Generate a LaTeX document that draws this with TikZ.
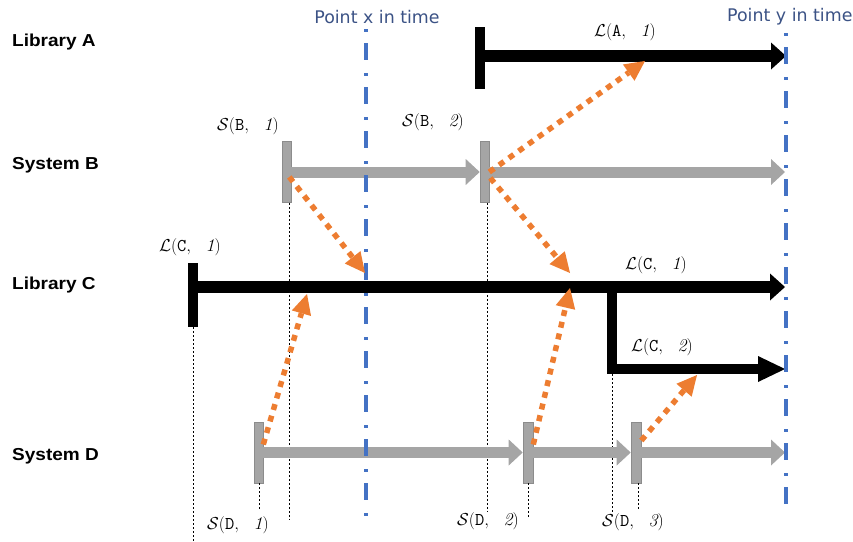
\documentclass[tikz,border=0pt]{standalone}
\usepackage{fontspec}
\usetikzlibrary{arrows.meta}
\newfontfamily\lblfont{Liberation Sans}[FakeStretch=1.1]
\newfontfamily\ptfont{DejaVu Sans}
\definecolor{ptblue}{HTML}{3B5285}
\definecolor{lineblue}{HTML}{4472C4}
\definecolor{orng}{HTML}{ED7D31}
\definecolor{gfill}{HTML}{A5A5A5}
\definecolor{gedge}{HTML}{8C8C8C}
\newcommand{\lbl}[3]{$\mathcal{#1}(\mathtt{#2},\hspace{0.65em}\mathit{#3})$}
\begin{document}
\begin{tikzpicture}[x=1pt,y=-1pt,
  rowlabel/.style={anchor=west, font=\lblfont\bfseries\fontsize{17.3}{20}\selectfont, inner sep=0pt},
  ptlabel/.style={font=\ptfont\fontsize{17.4}{20}\selectfont, text=ptblue, inner sep=0pt},
  mlabel/.style={font=\fontsize{18}{20}\selectfont, inner sep=0pt},
  blackbar/.style={rectangle, fill=black, minimum width=10pt, minimum height=62pt, inner sep=0pt},
  graybar/.style={rectangle, fill=gfill, draw=gedge, line width=0.6pt, minimum width=9pt, minimum height=61pt, inner sep=0pt},
  blackarrow/.style={draw=black, line width=12.5pt, -{Triangle[length=15pt,width=27pt,line width=0pt]}},
  grayarrow/.style={draw=gfill, line width=11pt, -{Triangle[length=14pt,width=26pt,line width=0pt]}},
  timeline/.style={draw=lineblue, line width=4pt, dash pattern=on 3pt off 11pt on 17pt off 13pt},
  guide/.style={draw=black, line width=0.7pt, dash pattern=on 2pt off 2pt},
  dep/.style={draw=orng, line width=5.5pt, dash pattern=on 6pt off 6pt, -{Triangle[length=20pt,width=20pt,line width=0pt]}}
]
\useasboundingbox (0,0) rectangle (853,541);

% row labels
\node[rowlabel] (lA) at (12,42) {Library A};
\node[rowlabel] (lB) at (12,165) {System B};
\node[rowlabel] (lC) at (12,285) {Library C};
\node[rowlabel] (lD) at (12,456) {System D};

% time labels
\node[ptlabel] (px) at (377,17) {Point x in time};
\node[ptlabel, anchor=west] (py) at (727,17) {Point y in time};

% bars
\node[blackbar] (barA) at (480,58) {};
\node[graybar] (barB1) at (286.5,172) {};
\node[graybar] (barB2) at (484.5,172) {};
\node[blackbar, minimum height=64pt] (barC) at (193,295) {};
\node[graybar] (barD1) at (258.5,452.5) {};
\node[graybar, minimum width=10pt] (barD2) at (528,452.5) {};
\node[graybar, minimum width=10pt] (barD3) at (636,452.5) {};

% coordinates
\coordinate (endA) at (786,56);
\coordinate (endB) at (785,172);
\coordinate (endC1) at (785,287);
\coordinate (split) at (612,287);
\coordinate (endC2) at (785,369);
\coordinate (endD) at (785,452.5);
\coordinate (gC) at (193,541);
\coordinate (gB1) at (289,519);
\coordinate (gB2) at (487,512);
\coordinate (gD1) at (259,510);
\coordinate (gD2) at (528,519);
\coordinate (gS) at (612,512);
\coordinate (gD3) at (638,510);
\coordinate (xtop) at (366,29);
\coordinate (xbot) at (366,516);
\coordinate (ytop) at (786,33);
\coordinate (ybot) at (786,507);

% guides
\draw[guide] (barC.south) -- (gC);
\draw[guide] (barB1.south -| gB1) -- (gB1);
\draw[guide] (barB2.south -| gB2) -- (gB2);
\draw[guide] (barD1.south -| gD1) -- (gD1);
\draw[guide] (barD2.south) -- (gD2);
\draw[guide] (barD3.south -| gD3) -- (gD3);
\draw[guide] (612,374) -- (gS);

% arrows
\draw[blackarrow] (barA.east |- endA) -- (endA);
\draw[grayarrow] (barB1.east) -- (barB2.west);
\draw[grayarrow] (barB2.east) -- (endB);
\draw[blackarrow] (barC.east |- endC1) -- (endC1);
\draw[line width=10pt, -{Triangle[length=27pt,width=26pt,line width=0pt]}] (split) |- (endC2);
\draw[grayarrow] (barD1.east) -- (barD2.west);
\draw[grayarrow] (barD2.east) -- (barD3.west);
\draw[grayarrow] (barD3.east) -- (endD);

% time lines
\draw[timeline] (xtop) -- (xbot);
\draw[timeline] (ytop) -- (ybot);

% math labels
\node[mlabel] (LA1) at (625,32) {\lbl{L}{A}{1}};
\node[mlabel] (SB1) at (248,126) {\lbl{S}{B}{1}};
\node[mlabel] (SB2) at (433,122) {\lbl{S}{B}{2}};
\node[mlabel] (LC1a) at (190,247) {\lbl{L}{C}{1}};
\node[mlabel] (LC1b) at (656,265) {\lbl{L}{C}{1}};
\node[mlabel] (LC2) at (662,347) {\lbl{L}{C}{2}};
\node[mlabel] (SD1) at (238,525) {\lbl{S}{D}{1}};
\node[mlabel] (SD2) at (488,521) {\lbl{S}{D}{2}};
\node[mlabel] (SD3) at (633,522) {\lbl{S}{D}{3}};

% dependency arrows
\coordinate (t1) at (365,273);
\coordinate (t2) at (645,61);
\coordinate (t3) at (570,273);
\coordinate (t4) at (307,294);
\coordinate (t5) at (570,288);
\coordinate (t6) at (697,375);
\draw[dep] ([xshift=-2pt,yshift=-5pt]barB1.east) -- (t1);
\draw[dep] (barB2.east) -- (t2);
\draw[dep] ([xshift=1pt,yshift=-6pt]barB2.east) -- (t3);
\draw[dep] ([yshift=8pt]barD1.east) -- (t4);
\draw[dep] ([yshift=8pt]barD2.east) -- (t5);
\draw[dep] ([yshift=12pt]barD3.east) -- (t6);
\end{tikzpicture}
\end{document}
